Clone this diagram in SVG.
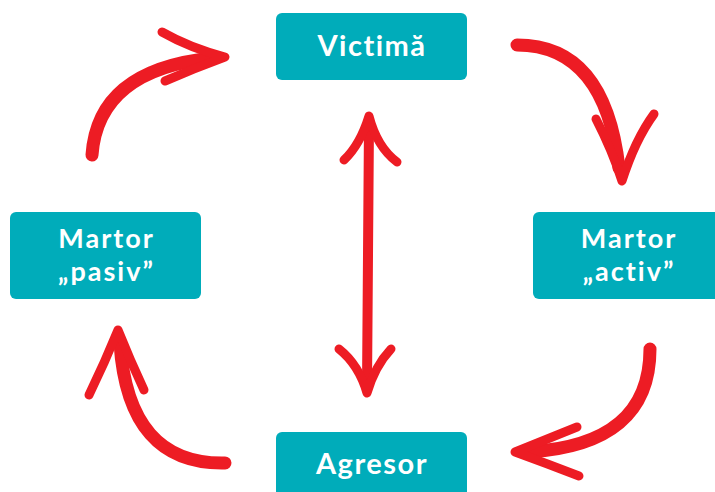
<svg xmlns="http://www.w3.org/2000/svg" width="715" height="492" viewBox="0 0 715 492">
<style>
.box{fill:#00ACBA;}
.lbl{font-family:Lato,"Open Sans","DejaVu Sans",sans-serif;font-weight:bold;font-size:27px;fill:#ffffff;text-anchor:middle;letter-spacing:2px;}
.big{font-size:29px;letter-spacing:1.5px;}
.shaft{fill:none;stroke:#ED1C24;stroke-width:13;stroke-linecap:round;stroke-linejoin:round;}
.barb{fill:none;stroke:#ED1C24;stroke-width:9;stroke-linecap:round;stroke-linejoin:round;}
.vshaft{fill:none;stroke:#ED1C24;stroke-width:10;stroke-linecap:round;}
</style>
<rect width="715" height="492" fill="#ffffff"/>
<g id="connectors">
  <path class="shaft" d="M92,155 Q98,70 212,58"/>
  <path class="barb" d="M162,32 Q190,48 225,57 Q195,68 165,81"/>
  <path class="shaft" d="M517,45 Q605,45 619,168"/>
  <path class="barb" d="M596,119 Q612,150 622,181 Q635,140 654,114"/>
  <path class="shaft" d="M650,349 Q650,445 528,452"/>
  <path class="barb" d="M577,427 Q545,440 515,452 Q548,464 579,476"/>
  <path class="shaft" d="M225,463 Q128,465 120,343"/>
  <path class="barb" d="M89,395 Q105,362 118,330 Q130,360 144,390"/>
  <path class="vshaft" d="M369,122 L367,388"/>
  <path class="barb" d="M344,160 Q360,145 369,116 Q377,147 397,162"/>
  <path class="barb" d="M339,349 Q359,365 367,393 Q375,366 391,349"/>
</g>
<g id="node-victima">
  <rect class="box" x="276" y="13" width="191" height="67" rx="6"/>
  <text class="lbl big" x="372" y="56">Victimă</text>
</g>
<g id="node-martor-pasiv">
  <rect class="box" x="10" y="212" width="191" height="87" rx="6"/>
  <text class="lbl" x="106.5" y="248">Martor</text>
  <text class="lbl" x="106.5" y="281">„pasiv”</text>
</g>
<g id="node-martor-activ">
  <rect class="box" x="533" y="212" width="191" height="87" rx="6"/>
  <text class="lbl" x="629" y="248">Martor</text>
  <text class="lbl" x="629" y="281">„activ”</text>
</g>
<g id="node-agresor">
  <rect class="box" x="276" y="432" width="191" height="70" rx="6"/>
  <text class="lbl big" x="372" y="474">Agresor</text>
</g>
</svg>
